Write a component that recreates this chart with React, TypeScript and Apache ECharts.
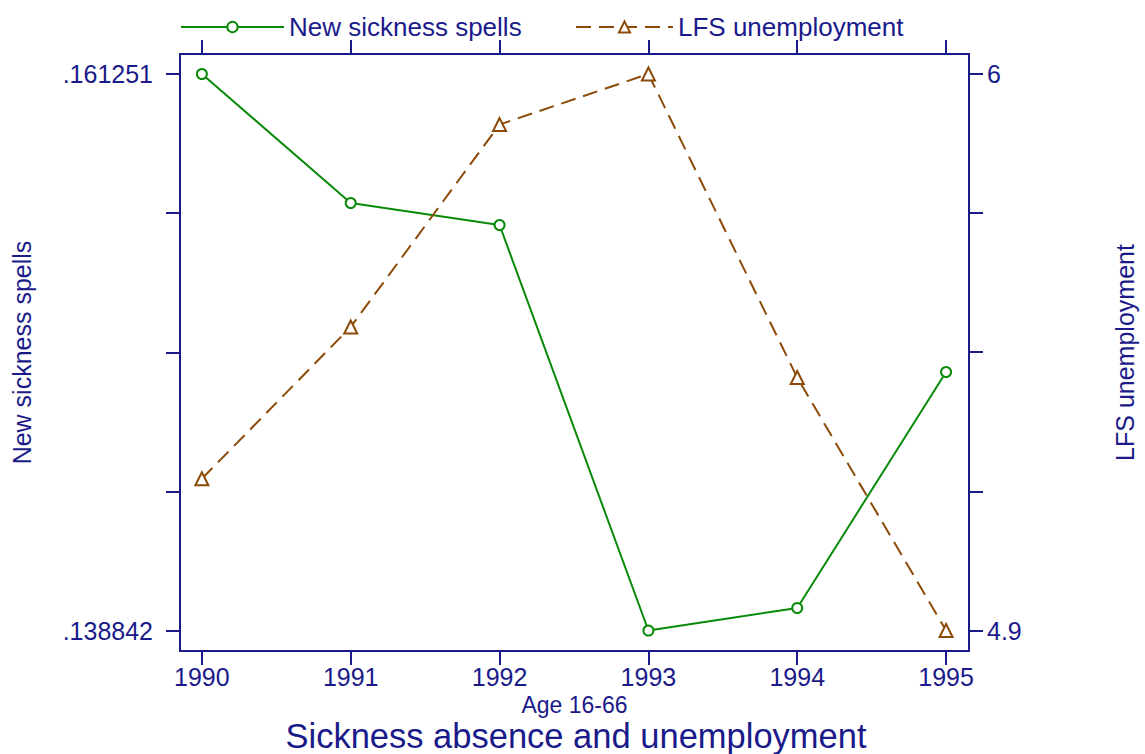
import React, { useEffect, useRef } from "react";
import * as echarts from "echarts";

const years = [1990, 1991, 1992, 1993, 1994, 1995];
const sicknessSpells = [0.161251, 0.156056, 0.155171, 0.138842, 0.139748, 0.149251];
const lfsUnemployment = [5.2, 5.5, 5.9, 6.0, 5.4, 4.9];
const leftTicks = [0.138842, 0.1444443, 0.1500465, 0.1556488, 0.161251];
const leftLabels = [0.138842, 0.161251];
const rightTicks = [4.9, 5.175, 5.45, 5.725, 6];
const rightLabels = [4.9, 6];

const NAVY = "#1a1a8a";
const GREEN = "#0a8a0a";
const BROWN = "#8c4a08";
const FONT = "Liberation Sans, Arial, Helvetica, sans-serif";

export default function App() {
  const ref = useRef<HTMLDivElement>(null);
  useEffect(() => {
    if (!ref.current) return;
    const chart = echarts.init(ref.current, null, { renderer: "svg" });
    const xMin = 1989.853;
    const xMax = 1995.154;
    const tickStyle = { show: true, length: 14, lineStyle: { color: NAVY, width: 2 } };
    chart.setOption({
      animation: false,
      backgroundColor: "#ffffff",
      textStyle: { fontFamily: FONT, color: NAVY },
      title: {
        text: "Sickness absence and unemployment",
        left: 576,
        textAlign: "center",
        top: 719,
        padding: 0,
        textStyle: { fontFamily: FONT, fontSize: 34.5, lineHeight: 34, fontWeight: "normal", color: NAVY },
      },
      legend: [
        {
          data: ["New sickness spells"],
          left: 180,
          top: 14,
          padding: 0,
          itemWidth: 103,
          itemHeight: 13,
          textStyle: { fontFamily: FONT, fontSize: 26, color: NAVY },
        },
        {
          data: ["LFS unemployment"],
          left: 575,
          top: 14,
          padding: 0,
          itemWidth: 97,
          itemHeight: 14,
          textStyle: { fontFamily: FONT, fontSize: 26, color: NAVY },
        },
      ],
      grid: {
        left: 180,
        right: 173,
        top: 54,
        bottom: 103,
        show: true,
        borderColor: NAVY,
        borderWidth: 2,
        backgroundColor: "transparent",
      },
      xAxis: [
        {
          type: "value",
          min: xMin,
          max: xMax,
          position: "bottom",
          name: "Age 16-66",
          nameLocation: "middle",
          nameGap: 36,
          nameTextStyle: { fontFamily: FONT, fontSize: 23, lineHeight: 23, color: NAVY },
          axisLine: { show: false },
          splitLine: { show: false },
          axisTick: { ...tickStyle, customValues: years },
          axisLabel: {
            customValues: years,
            margin: 13,
            fontFamily: FONT,
            fontSize: 25,
            color: NAVY,
            formatter: (v: number) => String(Math.round(v)),
          },
        },
        {
          type: "value",
          min: xMin,
          max: xMax,
          position: "top",
          axisLine: { show: false },
          splitLine: { show: false },
          axisTick: { ...tickStyle, customValues: years },
          axisLabel: { show: false },
        },
      ],
      yAxis: [
        {
          type: "value",
          min: 0.138017,
          max: 0.162056,
          position: "left",
          name: "New sickness spells",
          nameLocation: "middle",
          nameRotate: 90,
          nameGap: 146,
          nameTextStyle: { fontFamily: FONT, fontSize: 25, color: NAVY },
          axisLine: { show: false },
          splitLine: { show: false },
          axisTick: { ...tickStyle, customValues: leftTicks },
          axisLabel: {
            customValues: leftLabels,
            margin: 27,
            fontFamily: FONT,
            fontSize: 25,
            color: NAVY,
            formatter: (v: number) => String(v).replace(/^0/, ""),
          },
        },
        {
          type: "value",
          min: 4.8595,
          max: 6.0395,
          position: "right",
          name: "LFS unemployment",
          nameLocation: "middle",
          nameRotate: 90,
          nameGap: 143,
          nameTextStyle: { fontFamily: FONT, fontSize: 25, color: NAVY },
          axisLine: { show: false },
          splitLine: { show: false },
          axisTick: { ...tickStyle, customValues: rightTicks },
          axisLabel: {
            customValues: rightLabels,
            margin: 18,
            fontFamily: FONT,
            fontSize: 25,
            color: NAVY,
            formatter: (v: number) => String(v),
          },
        },
      ],
      series: [
        {
          name: "New sickness spells",
          type: "line",
          xAxisIndex: 0,
          yAxisIndex: 0,
          data: years.map((y, i) => [y, sicknessSpells[i]]),
          symbol: "emptyCircle",
          symbolSize: 10,
          color: GREEN,
          lineStyle: { color: GREEN, width: 2 },
          itemStyle: { color: GREEN, borderColor: GREEN, borderWidth: 2 },
        },
        {
          name: "LFS unemployment",
          type: "line",
          xAxisIndex: 0,
          yAxisIndex: 1,
          data: years.map((y, i) => [y, lfsUnemployment[i]]),
          symbol: "emptyTriangle",
          symbolSize: 13,
          color: BROWN,
          lineStyle: { color: BROWN, width: 2, type: [15, 8] },
          itemStyle: { color: BROWN, borderColor: BROWN, borderWidth: 2 },
        },
      ],
    });
    return () => chart.dispose();
  }, []);
  return (
    <div
      ref={ref}
      style={{ position: "absolute", left: 0, top: 0, width: 1145, height: 754, background: "#fff" }}
    />
  );
}
